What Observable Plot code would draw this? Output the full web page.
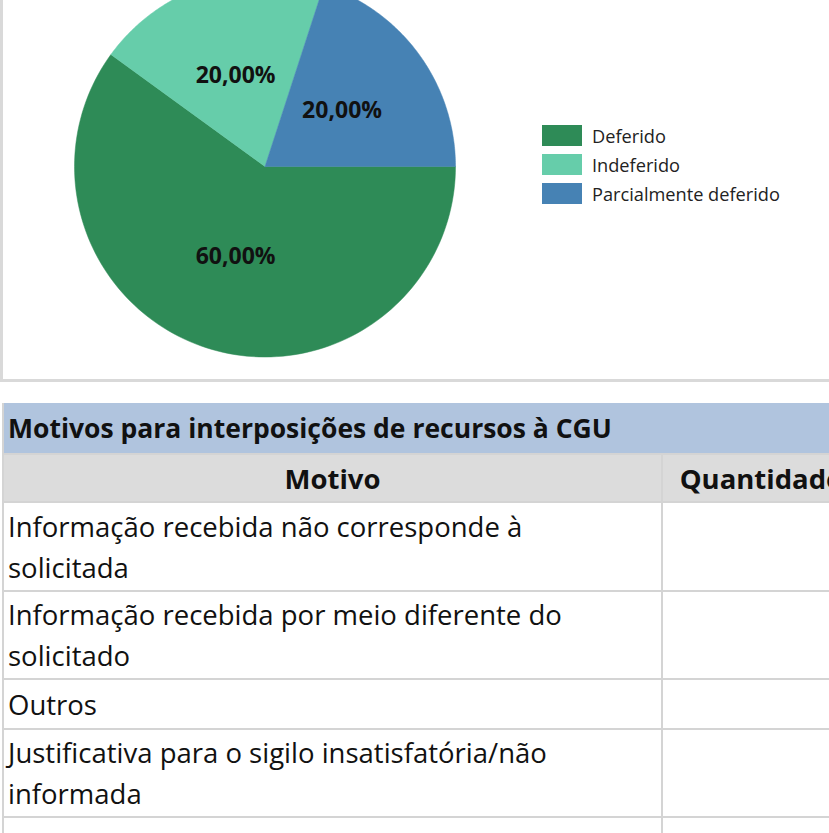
<!DOCTYPE html>
<html><head><meta charset="utf-8">
<script src="https://cdn.jsdelivr.net/npm/d3@7"></script>
<script src="https://cdn.jsdelivr.net/npm/@observablehq/plot@0.6"></script>
<style>
body{margin:0;background:#fff;width:829px;height:833px;overflow:hidden;position:relative;font-family:"Open Sans",sans-serif;color:#111;}
#chartbox{position:absolute;left:0;top:0;width:829px;height:379px;border-left:3px solid #d9d9d9;border-bottom:3px solid #d9d9d9;}
#plot{position:absolute;left:-3px;top:0;}
#legend{position:absolute;left:539px;top:121px;}
.lg{display:flex;align-items:center;height:29px;font-size:18.2px;color:#222;}
.sw{width:40px;height:21px;margin-right:10px;}
table{position:absolute;top:403px;left:2px;border-collapse:collapse;table-layout:fixed;width:857px;}
td{border:2px solid #d4d4d4;padding:0 0 0 4px;}
.title{background:#b0c4de;font-weight:bold;font-size:26.5px;height:50px;text-align:left;border-top:none;}
.head{background:#dcdcdc;font-weight:bold;font-size:27.5px;height:46px;text-align:center;padding:0;}
.row{font-size:27.5px;line-height:41px;vertical-align:middle;padding-right:30px;}
</style></head>
<body>
<div id="chartbox"><div id="plot"></div><div id="legend"></div></div>
<script>
const categories = ["Deferido", "Indeferido", "Parcialmente deferido"];
const shares = [60, 20, 20];
const shareLabels = ["60,00%", "20,00%", "20,00%"];
const colors = ["#2E8B57", "#66CDAA", "#4682B4"];
const tableTitle = "Motivos para interposições de recursos à CGU";
const tableHeaders = ["Motivo", "Quantidade"];
const motivos = [
  "Informação recebida não corresponde à solicitada",
  "Informação recebida por meio diferente do solicitado",
  "Outros",
  "Justificativa para o sigilo insatisfatória/não informada",
  ""
];
const quantidades = ["", "", "", "", ""];
const rowHeights = [87, 86, 48, 86, 60];

// pie geometry from the data
const W = 832, H = 379, cx = 264.5, cy = 166, R = 190.5;
const data = categories.map((c, i) => ({category: c, share: shares[i], label: shareLabels[i]}));
const arcs = d3.pie().sort(null).value(d => d.share)
  .startAngle(Math.PI / 2).endAngle(Math.PI / 2 + 2 * Math.PI)(data);
const pts = [];
const labelPts = [];
arcs.forEach(a => {
  const n = 120;
  pts.push({category: a.data.category, x: 0, y: 0});
  for (let k = 0; k <= n; k++) {
    const t = a.startAngle + (a.endAngle - a.startAngle) * k / n;
    pts.push({category: a.data.category, x: Math.sin(t), y: Math.cos(t)});
  }
  pts.push({category: a.data.category, x: 0, y: 0});
  const m = (a.startAngle + a.endAngle) / 2;
  labelPts.push({label: a.data.label, x: 0.5 * Math.sin(m), y: 0.5 * Math.cos(m)});
});

const chart = Plot.plot({
  width: W, height: H,
  margin: 0,
  x: {domain: [-cx / R, (W - cx) / R], axis: null},
  y: {domain: [-(H - cy) / R, cy / R], axis: null},
  color: {domain: categories, range: colors},
  style: {background: "transparent"},
  marks: [
    Plot.line(pts, {x: "x", y: "y", z: "category", fill: "category", stroke: "category", strokeWidth: 0.5, clip: true}),
    Plot.text(labelPts, {x: "x", y: "y", text: "label", fontSize: 23, fontWeight: "bold", fill: "#111", fontFamily: "Open Sans"})
  ]
});
document.getElementById("plot").appendChild(chart);

const lg = document.getElementById("legend");
categories.forEach((c, i) => {
  const row = document.createElement("div");
  row.className = "lg";
  row.innerHTML = `<div class="sw" style="background:${colors[i]}"></div><span>${c}</span>`;
  lg.appendChild(row);
});

// table
const tbl = document.createElement("table");
let html = `<colgroup><col style="width:659px"><col style="width:198px"></colgroup>`;
html += `<tr><td class="title" colspan="2">${tableTitle}</td></tr>`;
html += `<tr><td class="head">${tableHeaders[0]}</td><td class="head">${tableHeaders[1]}</td></tr>`;
motivos.forEach((m, i) => {
  html += `<tr><td class="row" style="height:${rowHeights[i]}px">${m}</td><td class="row">${quantidades[i]}</td></tr>`;
});
tbl.innerHTML = html;
document.body.appendChild(tbl);
</script>
</body></html>
